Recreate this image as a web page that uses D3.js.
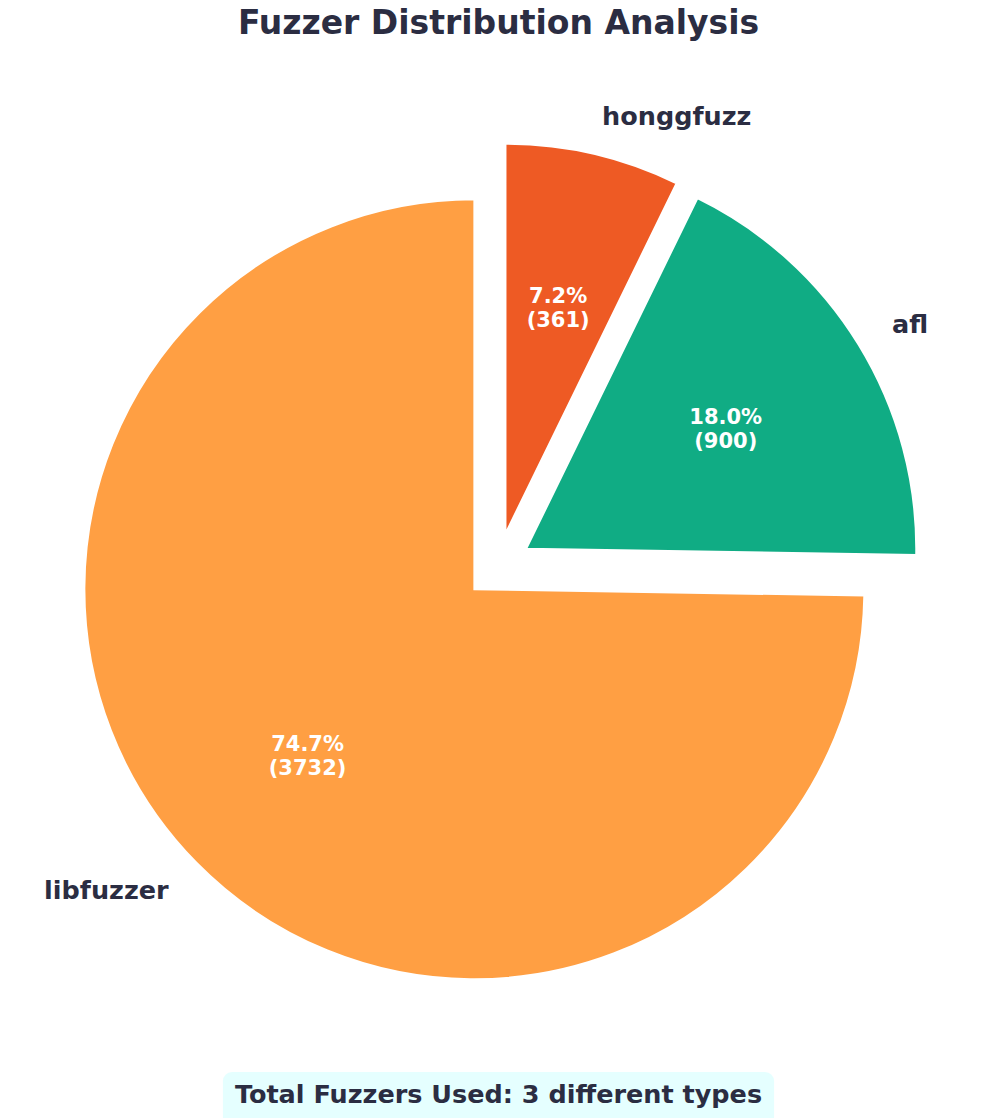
<!DOCTYPE html>
<html>
<head>
<meta charset="utf-8">
<script src="https://cdn.jsdelivr.net/npm/d3@7"></script>
<style>
  body { margin: 0; background: #fff; }
  svg { display: block; font-family: "DejaVu Sans", sans-serif; }
</style>
</head>
<body>
<div id="chart"></div>
<script>
const fuzzers = ["libfuzzer", "afl", "honggfuzz"];
const counts = [3732, 900, 361];
const sliceColors = ["#ff9f43", "#10ac84", "#ee5a24"];
const titleText = "Fuzzer Distribution Analysis";
const footerText = `Total Fuzzers Used: ${fuzzers.length} different types`;

const width = 997, height = 1118;
const cx = 498, cy = 566, radius = 390;
const explode = 0.085;
const textColor = "#2b2d42";

const svg = d3.select("#chart").append("svg")
  .attr("width", width)
  .attr("height", height);

const data = fuzzers.map((name, i) => ({ name, value: counts[i], color: sliceColors[i] }));
const total = d3.sum(counts);

// counter-clockwise from 12 o'clock, like matplotlib startangle=90
const pie = d3.pie().sort(null).value(d => d.value)
  .startAngle(0).endAngle(-2 * Math.PI);
const arcs = pie(data);

const arc = d3.arc().innerRadius(0).outerRadius(radius);

const pieG = svg.append("g").attr("transform", `translate(${cx},${cy})`);

const dir = a => [Math.sin(a), -Math.cos(a)];

arcs.forEach(a => {
  const mid = (a.startAngle + a.endAngle) / 2;
  const [ux, uy] = dir(mid);
  const ox = ux * explode * radius, oy = uy * explode * radius;
  const g = pieG.append("g").attr("transform", `translate(${ox},${oy})`);

  g.append("path")
    .attr("d", arc(a))
    .attr("fill", a.data.color)
    .attr("stroke", "#fff")
    .attr("stroke-width", 2)
    .attr("stroke-linejoin", "miter");

  // outer label
  const lx = ux * radius * 1.1, ly = uy * radius * 1.1;
  g.append("text")
    .attr("x", lx)
    .attr("y", ly)
    .attr("dy", "0.35em")
    .attr("text-anchor", lx >= 0 ? "start" : "end")
    .attr("font-size", "25.5px")
    .attr("font-weight", "bold")
    .attr("fill", textColor)
    .text(a.data.name);

  // percentage label
  const px = ux * radius * 0.6, py = uy * radius * 0.6;
  const pct = d3.format(".1f")(a.data.value / total * 100) + "%";
  const t = g.append("text")
    .attr("x", px)
    .attr("y", py)
    .attr("text-anchor", "middle")
    .attr("font-size", "21px")
    .attr("font-weight", "bold")
    .attr("fill", "#fff");
  t.append("tspan").attr("x", px).attr("dy", "-0.12em").text(pct);
  t.append("tspan").attr("x", px).attr("dy", "1.15em").text(`(${a.data.value})`);
});

// title
svg.append("text")
  .attr("x", width / 2)
  .attr("y", 22)
  .attr("dy", "0.35em")
  .attr("text-anchor", "middle")
  .attr("font-size", "33px")
  .attr("font-weight", "bold")
  .attr("fill", textColor)
  .text(titleText);

// footer box
const footer = svg.append("g");
const ft = footer.append("text")
  .attr("x", width / 2)
  .attr("y", 1094)
  .attr("dy", "0.35em")
  .attr("text-anchor", "middle")
  .attr("font-size", "25.5px")
  .attr("font-weight", "bold")
  .attr("fill", textColor)
  .text(footerText);
const bb = ft.node().getBBox();
footer.insert("rect", "text")
  .attr("x", bb.x - 12)
  .attr("y", 1072)
  .attr("width", bb.width + 24)
  .attr("height", 60)
  .attr("rx", 9)
  .attr("fill", "#e0ffff")
  .attr("opacity", 0.85);
</script>
</body>
</html>
